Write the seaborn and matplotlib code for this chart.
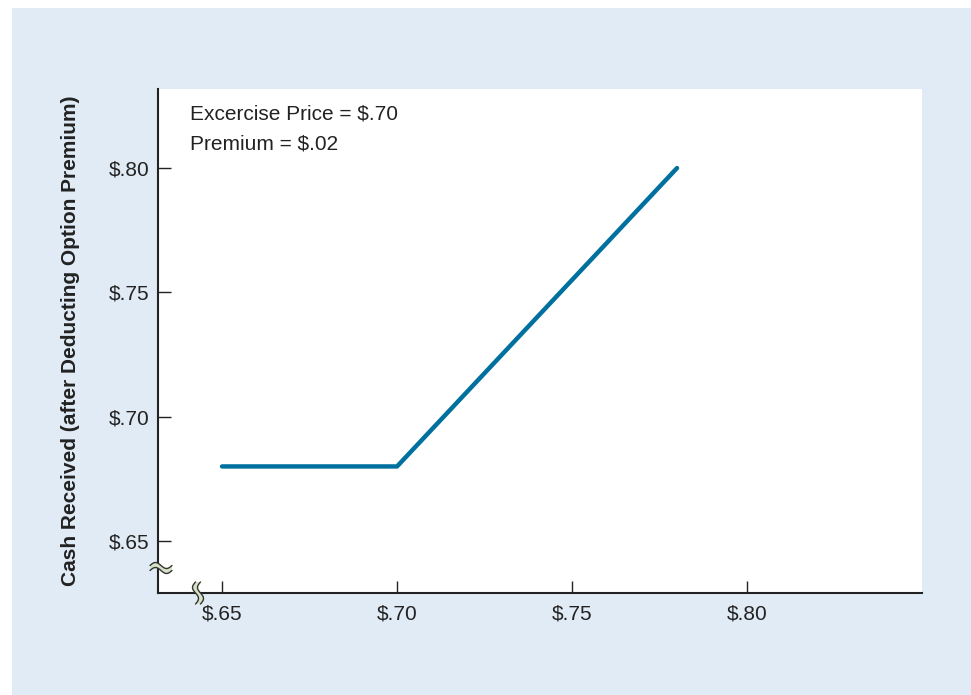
import matplotlib
matplotlib.use("Agg")
import matplotlib.pyplot as plt
import numpy as np
import pandas as pd
import seaborn as sns
from matplotlib.patches import Rectangle, Polygon

# data
price = [0.65, 0.70, 0.78]
cash = [0.68, 0.68, 0.80]
xticks = [0.65, 0.70, 0.75, 0.80]
yticks = [0.65, 0.70, 0.75, 0.80]
xlabels = ["$.65", "$.70", "$.75", "$.80"]
ylabels = ["$.65", "$.70", "$.75", "$.80"]
notes = ["Excercise Price = $.70", "Premium = $.02"]

sns.set_style("white")
plt.rcParams['font.family'] = ['Liberation Sans', 'DejaVu Sans']

W, H = 971, 695
fig = plt.figure(figsize=(W / 100, H / 100), dpi=100, facecolor="white")
fig.patches.append(Rectangle((12 / W, 0), 1 - 12 / W, 1 - 8 / H, transform=fig.transFigure,
                             facecolor="#e1ebf5", edgecolor="none", zorder=-10))

ax = fig.add_axes([158 / W, (H - 593) / H, (922 - 158) / W, (593 - 89) / H])
ax.set_facecolor("white")

df = pd.DataFrame({"price": price, "cash": cash})
sns.lineplot(data=df, x="price", y="cash", ax=ax, color="#00709f", linewidth=3.2, sort=False)

ax.set_xlim(0.6317, 0.85)
ax.set_ylim(0.6291, 0.8318)
ax.set_xticks(xticks)
ax.set_xticklabels(xlabels)
ax.set_yticks(yticks)
ax.set_yticklabels(ylabels)
ax.tick_params(bottom=True, left=True, direction="in", length=9, width=1, color="#222222",
               labelsize=15, labelcolor="#222222", pad=6)
ax.tick_params(axis="x", pad=8)
for s in ["top", "right"]:
    ax.spines[s].set_visible(False)
for s in ["left", "bottom"]:
    ax.spines[s].set_color("#222222")
    ax.spines[s].set_linewidth(1.5)
ax.set_xlabel("")
ax.set_ylabel("Cash Received (after Deducting Option Premium)", fontsize=15,
              fontweight="bold", color="#222222")
ax.yaxis.set_label_coords(-0.102, 0.5)

ax.text(0.042, 0.95, notes[0], transform=ax.transAxes, fontsize=15, color="#222222", va="center")
ax.text(0.042, 0.89, notes[1], transform=ax.transAxes, fontsize=15, color="#222222", va="center")


# axis break marks (pixel coords -> figure coords)
def squiggle(cx, cy, horizontal):
    t = np.linspace(-1, 1, 40)
    off = 5
    wave = 3.0 * np.sin(t * np.pi)
    if horizontal:
        xs = cx + t * 11
        a = np.column_stack([xs, cy + wave - off / 2])
        b = np.column_stack([xs, cy + wave + off / 2])
    else:
        ys = cy + t * 11
        a = np.column_stack([cx + wave - off / 2, ys])
        b = np.column_stack([cx + wave + off / 2, ys])
    conv = lambda p: np.column_stack([p[:, 0] / W, 1 - p[:, 1] / H])
    poly = np.vstack([a, b[::-1]])
    fig.patches.append(Polygon(conv(poly), closed=True, transform=fig.transFigure,
                               facecolor="#d5e2c6", edgecolor="none", zorder=5))
    for p in (a, b):
        fig.lines.append(plt.Line2D(conv(p)[:, 0], conv(p)[:, 1], transform=fig.transFigure,
                                    color="#333333", linewidth=1.0, zorder=6))


squiggle(161, 568, True)
squiggle(198, 593, False)

fig.savefig("out.png", dpi=100, facecolor="white")
